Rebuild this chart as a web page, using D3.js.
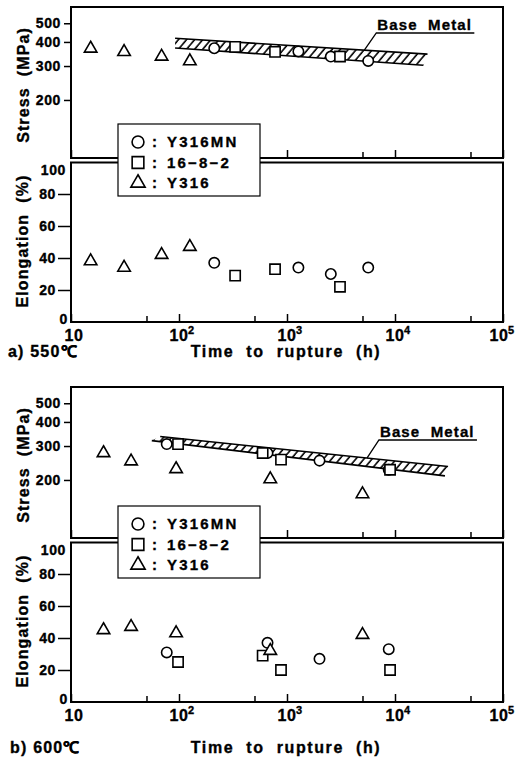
<!DOCTYPE html>
<html>
<head>
<meta charset="utf-8">
<script src="https://cdnjs.cloudflare.com/ajax/libs/d3/7.8.5/d3.min.js"></script>
<style>
  body { margin: 0; background: #fff; }
  text { font-family: "Liberation Sans", Arial, Helvetica, sans-serif; font-weight: bold; fill: #000; stroke: #000; stroke-width: 0.35px; white-space: pre; }
</style>
</head>
<body>
<div id="chart"></div>
<script>
// tick labels
const xMajor = [10, 100, 1000, 10000, 100000];
const xMinor = [50, 500, 5000, 50000];
const stressTicks = [200, 300, 400, 500];
const elongTicks = [0, 20, 40, 60, 80, 100];
const names = ["Y316MN", "16\u22128\u22122", "Y316"];

// a) 550 C
const y316mnTime550 = [212, 1275, 2545, 5650];
const y316mnStress550 = [371, 357, 336, 319];
const y316mnElong550 = [37, 34, 30, 34];
const s1682Time550 = [331, 775, 3095];
const s1682Stress550 = [377, 355, 336];
const s1682Elong550 = [29, 33, 22];
const y316Time550 = [15.2, 31, 69, 126];
const y316Stress550 = [370, 355, 336, 318];
const y316Elong550 = [38, 34, 42, 47];
const baseUpperTime550 = [92, 20000];
const baseUpper550 = [418, 346];
const baseLowerTime550 = [92, 18300];
const baseLower550 = [372, 303];

// b) 600 C
const y316mnTime600 = [77, 660, 2000, 8750];
const y316mnStress600 = [307, 276, 252, 226];
const y316mnElong600 = [31, 37, 27, 33];
const s1682Time600 = [98, 595, 880, 9000];
const s1682Stress600 = [307, 276, 255, 226];
const s1682Elong600 = [25, 29, 20, 20];
const y316Time600 = [20, 36, 94, 700, 5000];
const y316Stress600 = [276, 250, 228, 202, 169];
const y316Elong600 = [45, 47, 43, 32, 42];
const baseUpperTime600 = [67, 31000];
const baseUpper600 = [336, 235];
const baseLowerTime600 = [56, 29000];
const baseLower600 = [320, 210];

const W = 519, H = 758;
const svg = d3.select("#chart").append("svg")
    .attr("width", W)
    .attr("height", H);

const defs = svg.append("defs");
defs.append("pattern")
    .attr("id", "hatch")
    .attr("patternUnits", "userSpaceOnUse")
    .attr("width", 6.2)
    .attr("height", 12)
    .attr("patternTransform", "rotate(40)")
  .append("line")
    .attr("x1", 1).attr("y1", 0)
    .attr("x2", 1).attr("y2", 12)
    .attr("stroke", "#000")
    .attr("stroke-width", 1.6);

const x = d3.scaleLog().domain([10, 1e5]).range([71, 503]);
const yS = d3.scaleLog().domain([100, 600]).range([158, 8]);
const yE = d3.scaleLinear().domain([0, 100]).range([322, 162]);

const shapes = [d3.symbolCircle, d3.symbolSquare, d3.symbolTriangle];
const sizes = [85, 105, 68];

const panels = [
  {
    oy: 0, caption: "a) 550\u2103", captionX: 8, captionY: 357, legendY: 124,
    times: [y316mnTime550, s1682Time550, y316Time550],
    stress: [y316mnStress550, s1682Stress550, y316Stress550],
    elong: [y316mnElong550, s1682Elong550, y316Elong550],
    upT: baseUpperTime550, up: baseUpper550, loT: baseLowerTime550, lo: baseLower550,
    labelT: 5200, labelY: 33
  },
  {
    oy: 380, caption: "b) 600\u2103", captionX: 10, captionY: 373, legendY: 126,
    times: [y316mnTime600, s1682Time600, y316Time600],
    stress: [y316mnStress600, s1682Stress600, y316Stress600],
    elong: [y316mnElong600, s1682Elong600, y316Elong600],
    upT: baseUpperTime600, up: baseUpper600, loT: baseLowerTime600, lo: baseLower600,
    labelT: 5500, labelY: 60
  }
];

panels.forEach(function (p) {
  const g = svg.append("g").attr("transform", "translate(0," + p.oy + ")");

  // base metal band
  const upPts = p.upT.map((t, i) => [x(t), yS(p.up[i])]);
  const loPts = p.loT.map((t, i) => [x(t), yS(p.lo[i])]);
  g.append("path")
    .attr("d", "M" + upPts.concat(loPts.slice().reverse()).join("L") + "Z")
    .attr("fill", "url(#hatch)");
  [upPts, loPts].forEach(function (pts) {
    g.append("path")
      .attr("d", d3.line()(pts))
      .attr("fill", "none")
      .attr("stroke", "#000")
      .attr("stroke-width", 1.6);
  });

  // label + leader
  const lx = x(p.labelT);
  const ly = upPts[0][1] + (upPts[1][1] - upPts[0][1]) * (lx - upPts[0][0]) / (upPts[1][0] - upPts[0][0]);
  g.append("path")
    .attr("d", "M" + lx + "," + ly + "L" + (lx + 12) + "," + p.labelY + "H" + (lx + 110))
    .attr("fill", "none")
    .attr("stroke", "#000")
    .attr("stroke-width", 1.3);
  g.append("text")
    .attr("x", lx + 13)
    .attr("y", p.labelY - 3)
    .attr("font-size", 15)
    .attr("letter-spacing", 1.1)
    .text("Base  Metal");

  // frames
  g.append("rect")
    .attr("x", 71).attr("y", 7).attr("width", 432).attr("height", 151)
    .attr("fill", "none").attr("stroke", "#000").attr("stroke-width", 2);
  g.append("rect")
    .attr("x", 71).attr("y", 162.5).attr("width", 432).attr("height", 159.5)
    .attr("fill", "none").attr("stroke", "#000").attr("stroke-width", 2);

  // stress axis
  const sAx = g.append("g")
    .attr("transform", "translate(71,0)")
    .call(d3.axisLeft(yS).tickValues(stressTicks).tickSize(7).tickPadding(3).tickFormat(d3.format("d")));
  sAx.select(".domain").remove();

  // elongation axis
  const eAx = g.append("g")
    .attr("transform", "translate(71,0)")
    .call(d3.axisLeft(yE).tickValues(elongTicks).tickSize(13).tickPadding(2));
  eAx.select(".domain").remove();
  eAx.selectAll(".tick").filter(d => d === 0 || d === 100).select("line").remove();
  eAx.selectAll(".tick").filter(d => d === 0).select("text").attr("x", -3).attr("y", -3);
  eAx.selectAll(".tick").filter(d => d === 100).select("text").attr("x", -5).attr("y", 8);

  [sAx, eAx].forEach(function (ax) {
    ax.selectAll(".tick line").attr("stroke", "#000").attr("stroke-width", 1.5);
    ax.selectAll(".tick text")
      .attr("font-size", 14)
      .attr("letter-spacing", 0.6);
    ax.attr("font-family", null).attr("font-size", null);
  });

  // time ticks on both panels, pointing inward
  [158, 322].forEach(function (yy) {
    [[xMajor, 8], [xMinor, 6]].forEach(function (tk) {
      const a = g.append("g")
        .attr("transform", "translate(0," + yy + ")")
        .call(d3.axisBottom(x).tickValues(tk[0]).tickSizeInner(-tk[1]).tickSizeOuter(0).tickFormat(""));
      a.select(".domain").remove();
      a.selectAll(".tick line").attr("stroke", "#000").attr("stroke-width", 1.5);
    });
  });

  // time tick labels
  xMajor.forEach(function (v, i) {
    const nudge = i === 0 ? 3 : (i === xMajor.length - 1 ? -4 : 0);
    g.append("text")
      .attr("x", x(v) + nudge)
      .attr("y", 341)
      .attr("text-anchor", "middle")
      .attr("font-size", 16)
      .attr("letter-spacing", 0.5)
      .text("10");
    if (i > 0) {
      g.append("text")
        .attr("x", x(v) + nudge + 9)
        .attr("y", 334)
        .attr("font-size", 11)
        .text(String(i + 1));
    }
  });

  // axis titles
  g.append("text")
    .attr("transform", "translate(29,85) rotate(-90)")
    .attr("text-anchor", "middle")
    .attr("font-size", 16)
    .attr("letter-spacing", 1.1)
    .text("Stress  (MPa)");
  g.append("text")
    .attr("transform", "translate(28,241) rotate(-90)")
    .attr("text-anchor", "middle")
    .attr("font-size", 16)
    .attr("letter-spacing", 1.1)
    .text("Elongation  (%)");
  g.append("text")
    .attr("x", 286)
    .attr("y", p.captionY)
    .attr("text-anchor", "middle")
    .attr("font-size", 16)
    .attr("letter-spacing", 1.6)
    .text("Time  to  rupture  (h)");
  g.append("text")
    .attr("x", p.captionX)
    .attr("y", p.captionY)
    .attr("font-size", 16)
    .attr("letter-spacing", 1.2)
    .text(p.caption);

  // data points
  names.forEach(function (n, k) {
    const sym = d3.symbol().type(shapes[k]).size(sizes[k]);
    g.selectAll(null)
      .data(p.times[k].map((t, i) => [t, p.stress[k][i]]))
      .enter().append("path")
      .attr("d", sym)
      .attr("transform", d => "translate(" + x(d[0]) + "," + yS(d[1]) + ")")
      .attr("fill", "#fff").attr("stroke", "#000").attr("stroke-width", 1.6);
    g.selectAll(null)
      .data(p.times[k].map((t, i) => [t, p.elong[k][i]]))
      .enter().append("path")
      .attr("d", sym)
      .attr("transform", d => "translate(" + x(d[0]) + "," + yE(d[1]) + ")")
      .attr("fill", "#fff").attr("stroke", "#000").attr("stroke-width", 1.6);
  });

  // legend
  const lg = g.append("g").attr("transform", "translate(118," + p.legendY + ")");
  lg.append("rect")
    .attr("width", 142).attr("height", 72)
    .attr("fill", "#fff").attr("stroke", "#000").attr("stroke-width", 1.2);
  names.forEach(function (n, k) {
    const ry = 18 + k * 20.5;
    lg.append("path")
      .attr("d", d3.symbol().type(shapes[k]).size(sizes[k] * 1.3)())
      .attr("transform", "translate(20," + ry + ")")
      .attr("fill", "#fff").attr("stroke", "#000").attr("stroke-width", 1.6);
    lg.append("text").attr("x", 34).attr("y", ry + 5).attr("font-size", 15).text(":");
    lg.append("text").attr("x", 49).attr("y", ry + 5).attr("font-size", 15)
      .attr("letter-spacing", 2.2).text(n);
  });
});
</script>
</body>
</html>
